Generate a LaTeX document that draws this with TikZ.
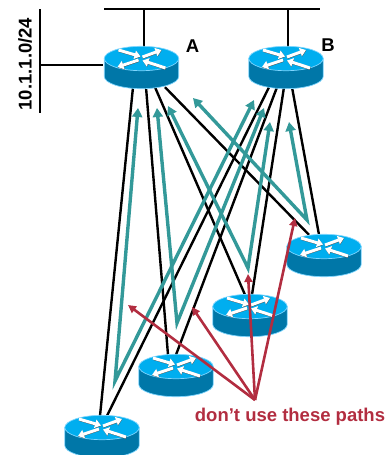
\documentclass[tikz,border=0pt]{standalone}
\usepackage{fontspec}
\setmainfont{Liberation Sans}
\usetikzlibrary{arrows.meta,backgrounds}

\definecolor{routertop}{HTML}{00AEEF}
\definecolor{routerside}{HTML}{0077A8}
\definecolor{routeredge}{HTML}{7FD6FF}
\definecolor{tealpath}{HTML}{339999}
\definecolor{redpath}{HTML}{B22D40}

\begin{document}
\begin{tikzpicture}[x=1pt,y=-1pt,
    router/.style = {minimum width=76pt, minimum height=44pt, inner sep=0pt,
      path picture={
        \begin{scope}[shift={(path picture bounding box.center)}]
          \fill[routerside, draw=routeredge, line width=0.7pt]
            (-37.2,-8.5) -- (-37.2,9.5) arc[start angle=180, end angle=0, x radius=37.2, y radius=12.2]
            -- (37.2,-8.5) -- cycle;
          \fill[routertop, draw=routeredge, line width=0.7pt]
            (0,-8.5) ellipse[x radius=37.2, y radius=12.2];
          \foreach \xa/\ya/\xb/\yb in {-23/-17/-1/-10.5, 1/-10/20/-17, -3/-7/-24/0, 24/1/1/-6.5} {
            \draw[black!70, line width=3pt, -{Triangle[length=6pt,width=8.5pt]}]
              (\xa+0.2,\ya+0.4) -- (\xb+0.2,\yb+0.4);
            \draw[white, line width=3pt, -{Triangle[length=6pt,width=8.5pt]}]
              (\xa,\ya) -- (\xb,\yb);
          }
        \end{scope}}},
    link/.style = {draw=black, line width=2.4pt},
    teal arrow/.style = {draw=tealpath, line width=3.4pt, miter limit=20,
      {Triangle[length=9pt,width=10pt,fill=tealpath]}-{Triangle[length=9pt,width=10pt,fill=tealpath]}},
    red arrow/.style = {draw=redpath, line width=2.6pt, -{Triangle[length=8pt,width=8pt,fill=redpath]}},
    lbl/.style = {font=\fontsize{18.5}{20}\selectfont\bfseries, inner sep=0pt}]
  \useasboundingbox (0,0) rectangle (387,455);

  % routers
  \node[router] (routerA) at (141.5,67) {};
  \node[router] (routerB) at (286,67) {};
  \node[router] (routerC) at (324,255) {};
  \node[router] (routerD) at (250,315) {};
  \node[router] (routerE) at (176,375) {};
  \node[router] (routerF) at (102,436) {};

  % labels
  \node[lbl] (labelA) at (192.5,46) {A};
  \node[lbl] (labelB) at (328,45) {B};
  \node[lbl, rotate=90] (subnet) at (25,64) {10.1.1.0/24};
  \node[lbl, text=redpath] (warning) at (290,417) {don’t use these paths};

  % buses
  \coordinate (busL) at (104,9);
  \coordinate (busR) at (320,9);
  \coordinate (lanT) at (40,9);
  \coordinate (lanB) at (40,113);
  \coordinate (lanM) at (40,65);
  \coordinate (stemA) at (144,9);
  \coordinate (stemB) at (288,9);

  % turning points of the teal paths
  \coordinate (turnF) at (115,381);
  \coordinate (turnE) at (177,323);
  \coordinate (turnD) at (248,268);
  \coordinate (turnC) at (307,220);

  \begin{scope}[on background layer]
    \draw[link] (busL) -- (busR);
    \draw[link] (lanT) -- (lanB);
    \draw[link] (lanM) -- (lanM -| routerA.west);
    \draw[link] (stemA) -- (stemA |- routerA.center);
    \draw[link] (stemB) -- (stemB |- routerB.center);
    \foreach \src/\dx/\dst/\ex in {routerA/-8.5/routerF/-2, routerA/4.5/routerE/-8,
        routerA/13.5/routerD/-5, routerA/23.5/routerC/-15, routerB/-17/routerF/5,
        routerB/-9/routerE/0, routerB/-2/routerD/2, routerB/6/routerC/-5}
      \draw[link] ([xshift=\dx,yshift=2pt]\src.south) -- ([xshift=\ex,yshift=-2pt]\dst.north);

    \draw[teal arrow] (138,108) -- (turnF) -- (254,100);
    \draw[teal arrow] (157,108) -- (turnE) -- (264,108);
    \draw[teal arrow] (168,106) -- (turnD) -- (270,122);
    \draw[teal arrow] (193,98) -- (turnC) -- (289,122);
  \end{scope}

  % paths to avoid
  \coordinate (warnTip) at (255,400);
  \draw[red arrow] (warnTip) -- (128,305);
  \draw[red arrow] (warnTip) -- (192,307);
  \draw[red arrow] (warnTip) -- (248,274);
  \draw[red arrow] (warnTip) -- (295,218);
\end{tikzpicture}
\end{document}
